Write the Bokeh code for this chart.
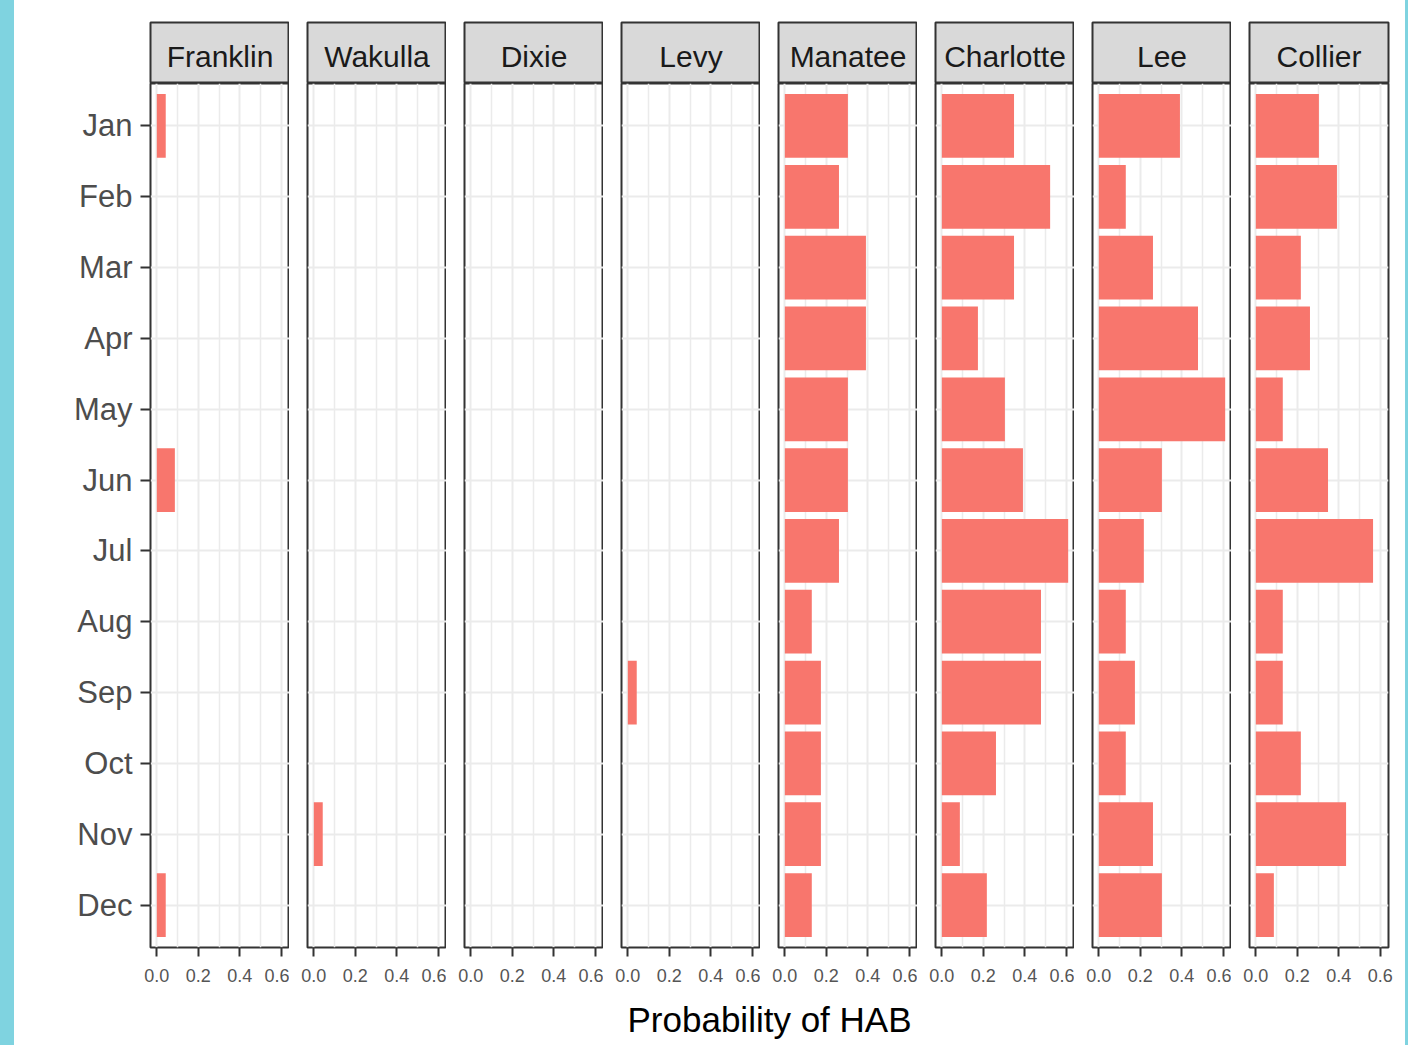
from bokeh.plotting import figure
from bokeh.layouts import row, column
from bokeh.models import FactorRange, Range1d, FixedTicker, PrintfTickFormatter, Spacer, ColumnDataSource
from bokeh.core.properties import value
from bokeh.embed import file_html
from bokeh.resources import INLINE

months = ["Jan", "Feb", "Mar", "Apr", "May", "Jun", "Jul", "Aug", "Sep", "Oct", "Nov", "Dec"]
counties = ["Franklin", "Wakulla", "Dixie", "Levy", "Manatee", "Charlotte", "Lee", "Collier"]

franklin = [0.043, 0, 0, 0, 0, 0.087, 0, 0, 0, 0, 0, 0.043]
wakulla = [0, 0, 0, 0, 0, 0, 0, 0, 0, 0, 0.043, 0]
dixie = [0, 0, 0, 0, 0, 0, 0, 0, 0, 0, 0, 0]
levy = [0, 0, 0, 0, 0, 0, 0, 0, 0.043, 0, 0, 0]
manatee = [0.304, 0.261, 0.391, 0.391, 0.304, 0.304, 0.261, 0.130, 0.174, 0.174, 0.174, 0.130]
charlotte = [0.348, 0.522, 0.348, 0.174, 0.304, 0.391, 0.609, 0.478, 0.478, 0.261, 0.087, 0.217]
lee = [0.391, 0.130, 0.261, 0.478, 0.609, 0.304, 0.217, 0.130, 0.174, 0.130, 0.261, 0.304]
collier = [0.304, 0.391, 0.217, 0.261, 0.130, 0.348, 0.565, 0.130, 0.130, 0.217, 0.435, 0.087]
series = [franklin, wakulla, dixie, levy, manatee, charlotte, lee, collier]

x_ticks = [0.0, 0.2, 0.4, 0.6]
x_minor = [0.1, 0.3, 0.5]
x_label = "Probability of HAB"

FONT = "Liberation Sans"
BAR = "#F8766D"
DARK = "#333333"
GRID = "#ebebeb"
CYAN = "#7fd3e0"

FRAME_W = 139
GAP = 18
LEFT0 = 136
RIGHT_LAST = 17
PANEL_H = 864
STRIP_H = 61
TOP = 22
BOTTOM = 45
XL_H = 53

xmax = max(max(s) for s in series)
pad = 0.05 * xmax
x_range = Range1d(-pad, xmax + pad)
y_range = FactorRange(factors=months[::-1], range_padding=0.1, range_padding_units="absolute")

strips = []
panels = []
for i, (name, vals) in enumerate(zip(counties, series)):
    first = i == 0
    last = i == len(counties) - 1
    mbl = LEFT0 if first else GAP
    mbr = RIGHT_LAST if last else 0
    w = mbl + FRAME_W + mbr

    s = figure(width=w, height=STRIP_H + TOP, x_range=Range1d(0, 1), y_range=Range1d(0, 1),
               output_backend="svg", toolbar_location=None,
               x_axis_location=None, y_axis_location=None,
               min_border_left=mbl, min_border_right=mbr, min_border_top=TOP, min_border_bottom=0)
    s.grid.visible = False
    s.background_fill_color = "#d9d9d9"
    s.border_fill_color = "white"
    s.outline_line_color = DARK
    s.outline_line_width = 2
    s.text(x=[0.5], y=[0.44], text=[name], text_align="center", text_baseline="middle",
           text_font=value(FONT), text_font_size="30px", text_color="#1a1a1a")
    strips.append(s)

    p = figure(width=w, height=PANEL_H + BOTTOM, x_range=x_range, y_range=y_range,
               output_backend="svg", toolbar_location=None,
               y_axis_location="left" if first else None,
               min_border_left=mbl, min_border_right=mbr, min_border_top=0, min_border_bottom=BOTTOM)
    p.background_fill_color = "white"
    p.border_fill_color = "white"
    p.outline_line_color = DARK
    p.outline_line_width = 2

    src = ColumnDataSource(dict(month=months, val=vals))
    p.hbar(y="month", left=0, right="val", height=0.9, source=src,
           fill_color=BAR, line_color=None)

    p.xaxis.ticker = FixedTicker(ticks=x_ticks, minor_ticks=x_minor)
    p.xaxis.formatter = PrintfTickFormatter(format="%.1f")
    p.xaxis.axis_line_color = None
    p.xaxis.major_tick_in = 0
    p.xaxis.major_tick_out = 9
    p.xaxis.major_tick_line_width = 2
    p.xaxis.major_tick_line_color = DARK
    p.xaxis.minor_tick_line_color = None
    p.xaxis.major_label_text_font = FONT
    p.xaxis.major_label_text_font_size = "18px"
    p.xaxis.major_label_text_color = "#555555"
    p.xaxis.major_label_standoff = 12

    p.xgrid.grid_line_color = GRID
    p.xgrid.grid_line_width = 2
    p.xgrid.minor_grid_line_color = GRID
    p.xgrid.minor_grid_line_width = 1.5
    p.ygrid.grid_line_color = GRID
    p.ygrid.grid_line_width = 2

    if first:
        p.yaxis.axis_line_color = None
        p.yaxis.major_tick_in = 0
        p.yaxis.major_tick_out = 10
        p.yaxis.major_tick_line_width = 2
        p.yaxis.major_tick_line_color = DARK
        p.yaxis.major_label_text_font = FONT
        p.yaxis.major_label_text_font_size = "31px"
        p.yaxis.major_label_text_color = "#4d4d4d"
        p.yaxis.major_label_standoff = 8
    panels.append(p)

total_w = sum(f.width for f in panels)
span_w = FRAME_W * len(counties) + GAP * (len(counties) - 1)
xl = figure(width=total_w, height=XL_H, x_range=Range1d(0, 1), y_range=Range1d(0, 1),
            output_backend="svg", toolbar_location=None,
            x_axis_location=None, y_axis_location=None,
            min_border_left=LEFT0, min_border_right=total_w - LEFT0 - span_w,
            min_border_top=0, min_border_bottom=0)
xl.grid.visible = False
xl.outline_line_color = None
xl.text(x=[0.5], y=[0.5], text=[x_label], text_align="center", text_baseline="middle",
        text_font=value(FONT), text_font_size="35px", text_color="black")

full_h = (STRIP_H + TOP) + (PANEL_H + BOTTOM) + XL_H
left_sp = Spacer(width=14, height=full_h, styles={"background-color": CYAN})
right_sp = Spacer(width=3, height=full_h, styles={"background-color": CYAN})

main = column(row(*strips), row(*panels), xl)
layout = row(left_sp, main, right_sp)

open("out.html", "w").write(file_html(layout, INLINE))
